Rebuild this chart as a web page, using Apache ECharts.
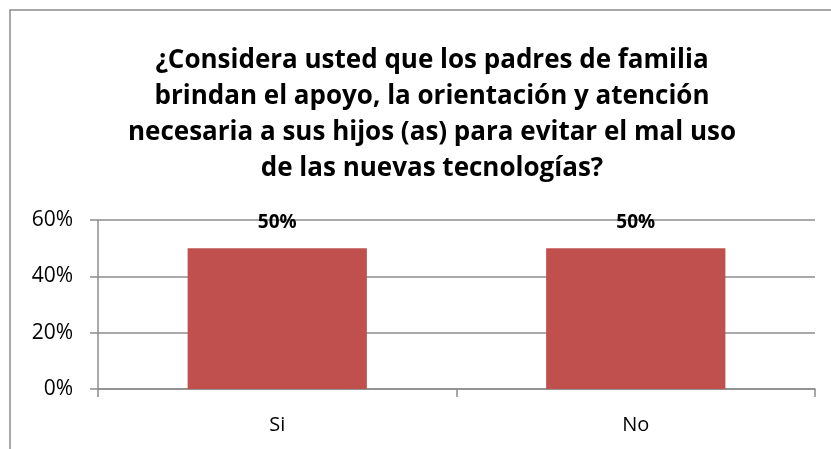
<!DOCTYPE html>
<html>
<head>
<meta charset="utf-8">
<script src="https://cdn.jsdelivr.net/npm/echarts@6/dist/echarts.min.js"></script>
<style>
  html, body { margin: 0; padding: 0; background: #fff; }
  #chart { width: 831px; height: 449px; }
</style>
</head>
<body>
<div id="chart"></div>
<script>
const titleText = '¿Considera usted que los padres de familia\nbrindan el apoyo, la orientación y atención\nnecesaria a sus hijos (as) para evitar el mal uso\nde las nuevas tecnologías?';
const categories = ['Si', 'No'];
const values = [0.5, 0.5];
const yTicks = [0, 0.2, 0.4, 0.6];

const font = 'Open Sans';
const chart = echarts.init(document.getElementById('chart'));
chart.setOption({
  animation: false,
  title: {
    text: titleText,
    left: 427,
    textAlign: 'center',
    top: 38,
    textStyle: { fontFamily: font, fontSize: 26, fontWeight: 'bold', color: '#000', lineHeight: 36 }
  },
  graphic: [
    { type: 'polyline', shape: { points: [[10, 449], [10, 10], [831, 10]] },
      style: { stroke: '#8c8c8c', lineWidth: 1.5, fill: null } }
  ],
  grid: { left: 98, right: 16, top: 220, bottom: 60 },
  xAxis: {
    type: 'category',
    data: categories,
    axisLine: { lineStyle: { color: '#8c8c8c', width: 1.5 } },
    axisTick: { show: true, length: 8, lineStyle: { color: '#8c8c8c', width: 1.5 } },
    axisLabel: { fontFamily: font, fontSize: 20, color: '#000', margin: 26 }
  },
  yAxis: {
    type: 'value',
    min: 0,
    max: yTicks[yTicks.length - 1],
    interval: 0.2,
    axisLine: { show: true, lineStyle: { color: '#8c8c8c', width: 1.5 } },
    axisTick: { show: true, length: 8, lineStyle: { color: '#8c8c8c', width: 1.5 } },
    splitLine: { lineStyle: { color: '#8c8c8c', width: 1.5 } },
    axisLabel: {
      fontFamily: font, fontSize: 21, color: '#000', margin: 25,
      formatter: v => Math.round(v * 100) + '%'
    }
  },
  series: [{
    type: 'bar',
    data: values,
    barWidth: '50%',
    itemStyle: { color: '#C0504D' },
    label: {
      show: true, position: 'top', distance: 16,
      fontFamily: font, fontSize: 19, fontWeight: 'bold', color: '#000',
      formatter: p => Math.round(p.value * 100) + '%'
    }
  }]
});
</script>
</body>
</html>
